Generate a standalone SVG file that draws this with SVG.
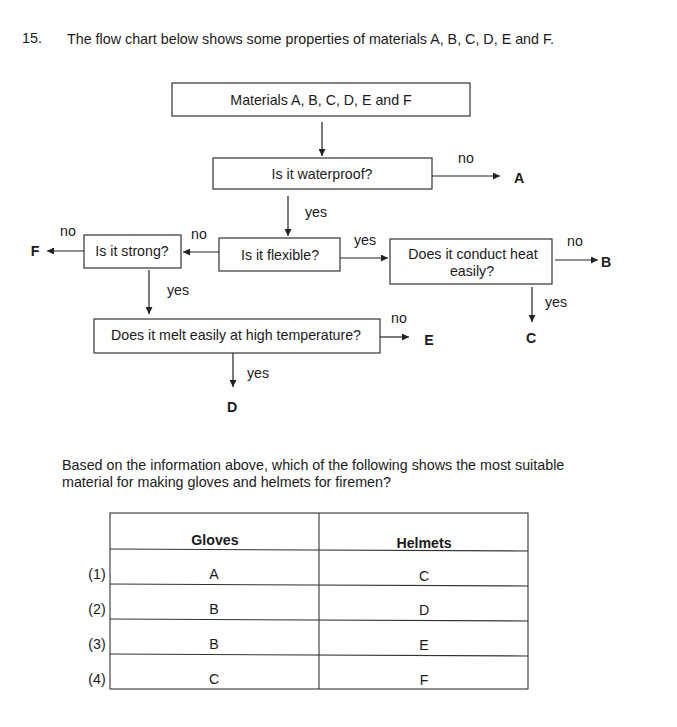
<svg xmlns="http://www.w3.org/2000/svg" width="677" height="727" viewBox="0 0 677 727">
  <defs>
    <marker id="arrow" viewBox="0 0 10 10" refX="10" refY="5" markerWidth="8" markerHeight="7" markerUnits="userSpaceOnUse" orient="auto">
      <path d="M0,0 L10,5 L0,10 z" fill="#222"/>
    </marker>
  </defs>
  <style>
    text { font-family: "Liberation Sans", Arial, sans-serif; fill: #1a1a1a; }
    .t { font-size: 14.2px; }
    .q { font-size: 14.3px; }
    .c { text-anchor: middle; }
    .b { font-weight: bold; }
    .box { fill: #fff; stroke: #333; stroke-width: 1.2; }
    .edge { stroke: #222; stroke-width: 1.2; fill: none; marker-end: url(#arrow); }
    .grid { stroke: #333; stroke-width: 1.1; fill: none; }
  </style>
  <rect width="677" height="727" fill="#fff"/>

  <!-- heading -->
  <text class="q" x="22" y="43">15.</text>
  <text class="q" x="67" y="44">The flow chart below shows some properties of materials A, B, C, D, E and F.</text>

  <!-- flow chart nodes -->
  <g id="start">
    <rect class="box" x="172" y="83" width="298" height="33"/>
    <text class="t c" x="321" y="105">Materials A, B, C, D, E and F</text>
  </g>
  <g id="waterproof">
    <rect class="box" x="213" y="158" width="219" height="31"/>
    <text class="t c" x="322" y="179">Is it waterproof?</text>
  </g>
  <g id="flexible">
    <rect class="box" x="219" y="238" width="121" height="33"/>
    <text class="t c" x="280" y="260">Is it flexible?</text>
  </g>
  <g id="strong">
    <rect class="box" x="84" y="235" width="97" height="33"/>
    <text class="t c" x="132" y="256">Is it strong?</text>
  </g>
  <g id="conduct">
    <rect class="box" x="390" y="239" width="162" height="45"/>
    <text class="t c" x="473" y="259">Does it conduct heat</text>
    <text class="t c" x="472" y="276">easily?</text>
  </g>
  <g id="melt">
    <rect class="box" x="94" y="319" width="286" height="34"/>
    <text class="t c" x="236" y="340">Does it melt easily at high temperature?</text>
  </g>

  <!-- outcome letters -->
  <g id="outcomes">
    <text class="t b c" x="519" y="183">A</text>
    <text class="t b c" x="606" y="267">B</text>
    <text class="t b c" x="531" y="343">C</text>
    <text class="t b c" x="232" y="412">D</text>
    <text class="t b c" x="429" y="345">E</text>
    <text class="t b c" x="35" y="256">F</text>
  </g>

  <!-- connectors -->
  <g id="connectors">
    <line class="edge" x1="322" y1="122" x2="322" y2="156"/>
    <line class="edge" x1="432" y1="176" x2="500" y2="176"/>
    <line class="edge" x1="288" y1="196" x2="288" y2="236"/>
    <line class="edge" x1="219" y1="252" x2="183" y2="252"/>
    <line class="edge" x1="84" y1="251" x2="47" y2="251"/>
    <line class="edge" x1="340" y1="258" x2="388" y2="258"/>
    <line class="edge" x1="555" y1="260" x2="598" y2="260"/>
    <line class="edge" x1="532" y1="287" x2="532" y2="322"/>
    <line class="edge" x1="149" y1="270" x2="149" y2="314"/>
    <line class="edge" x1="380" y1="337" x2="409" y2="337"/>
    <line class="edge" x1="233" y1="353" x2="233" y2="387"/>
  </g>

  <!-- connector labels -->
  <g id="labels">
    <text class="t c" x="466" y="163">no</text>
    <text class="t c" x="316" y="217">yes</text>
    <text class="t c" x="199" y="239">no</text>
    <text class="t c" x="68" y="236">no</text>
    <text class="t c" x="365" y="245">yes</text>
    <text class="t c" x="575" y="246">no</text>
    <text class="t c" x="556" y="307">yes</text>
    <text class="t c" x="178" y="295">yes</text>
    <text class="t c" x="399" y="323">no</text>
    <text class="t c" x="258" y="378">yes</text>
  </g>

  <!-- question -->
  <text class="q" x="62" y="470">Based on the information above, which of the following shows the most suitable</text>
  <text class="q" x="62" y="487">material for making gloves and helmets for firemen?</text>

  <!-- answer table -->
  <g id="table">
    <rect class="grid" x="110" y="513" width="418" height="176"/>
    <line class="grid" x1="319" y1="513" x2="319" y2="689"/>
    <line class="grid" x1="110" y1="549" x2="528" y2="551"/>
    <line class="grid" x1="110" y1="584" x2="528" y2="586"/>
    <line class="grid" x1="110" y1="619" x2="528" y2="621"/>
    <line class="grid" x1="110" y1="654" x2="528" y2="656"/>
    <text class="t b c" x="215" y="545">Gloves</text>
    <text class="t b c" x="424" y="548">Helmets</text>
    <text class="t c" x="97" y="579">(1)</text>
    <text class="t c" x="97" y="614">(2)</text>
    <text class="t c" x="97" y="649">(3)</text>
    <text class="t c" x="97" y="684">(4)</text>
    <text class="t c" x="214" y="579">A</text>
    <text class="t c" x="424" y="581">C</text>
    <text class="t c" x="214" y="614">B</text>
    <text class="t c" x="424" y="615">D</text>
    <text class="t c" x="214" y="649">B</text>
    <text class="t c" x="424" y="650">E</text>
    <text class="t c" x="214" y="684">C</text>
    <text class="t c" x="424" y="685">F</text>
  </g>
</svg>
